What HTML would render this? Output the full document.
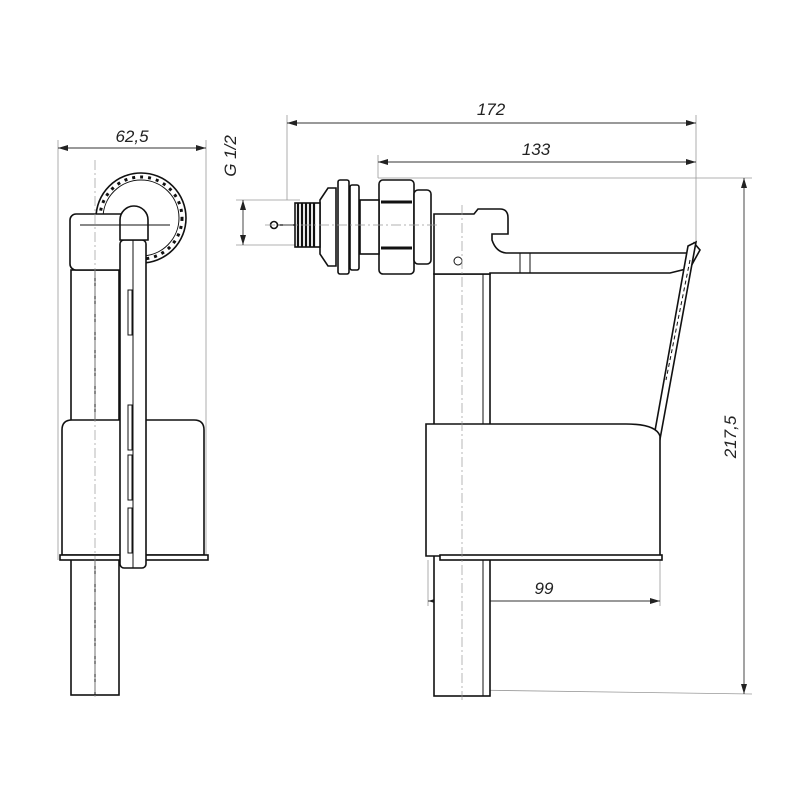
<!DOCTYPE html>
<html><head><meta charset="utf-8"><style>html,body{margin:0;padding:0;background:#fff}svg{display:block}</style></head>
<body>
<svg width="800" height="800" viewBox="0 0 800 800" xmlns="http://www.w3.org/2000/svg" font-family="Liberation Sans, sans-serif">
<defs>
<marker id="a" viewBox="0 0 10 6" refX="10" refY="3" markerWidth="10" markerHeight="6" orient="auto-start-reverse" markerUnits="userSpaceOnUse"><path d="M0,0 L10,3 L0,6z" fill="#222"/></marker>
</defs>
<g stroke="#999" stroke-width="0.8" fill="none">
<line x1="58" y1="140" x2="58" y2="560"/><line x1="206" y1="140" x2="206" y2="560"/>
<line x1="287" y1="115" x2="287" y2="200"/><line x1="696" y1="115" x2="696" y2="250"/>
<line x1="378" y1="155" x2="378" y2="178"/>
<line x1="378" y1="178" x2="752" y2="178"/>
<line x1="470" y1="690" x2="752" y2="694"/>
<line x1="236" y1="200" x2="300" y2="200"/><line x1="236" y1="245" x2="300" y2="245"/>
<line x1="428" y1="560" x2="428" y2="606"/><line x1="660" y1="560" x2="660" y2="606"/>
</g>
<g stroke="#333" stroke-width="0.9" fill="none">
<line x1="58" y1="148" x2="206" y2="148" marker-start="url(#a)" marker-end="url(#a)"/>
<line x1="287" y1="123" x2="696" y2="123" marker-start="url(#a)" marker-end="url(#a)"/>
<line x1="378" y1="162" x2="696" y2="162" marker-start="url(#a)" marker-end="url(#a)"/>
<line x1="744" y1="178" x2="744" y2="694" marker-start="url(#a)" marker-end="url(#a)"/>
<line x1="428" y1="601" x2="660" y2="601" marker-start="url(#a)" marker-end="url(#a)"/>
<line x1="243" y1="200" x2="243" y2="245" marker-start="url(#a)" marker-end="url(#a)"/>
</g>
<g font-style="italic" font-size="17" fill="#222" text-anchor="middle">
<text x="132" y="142">62,5</text>
<text x="491" y="115">172</text>
<text x="536" y="155">133</text>
<text x="544" y="594">99</text>
<text transform="translate(736,437) rotate(-90)">217,5</text>
<text transform="translate(236,156) rotate(-90)">G 1/2</text>
</g>
<g stroke="#111" stroke-width="1.6" fill="#fff">
<!-- LEFT VIEW -->
<circle cx="141" cy="218" r="45"/>
<circle cx="141" cy="218" r="38" stroke-width="1"/>
<circle cx="141" cy="218" r="41" stroke-width="3" stroke-dasharray="3,5" fill="none"/>
<rect x="71" y="270" width="48" height="425"/>
<line x1="95" y1="270" x2="95" y2="695" stroke-width="1"/>
<rect x="70" y="214" width="70" height="56" rx="6"/>
<path d="M62,430 q0,-10 10,-10 h122 q10,0 10,10 v125 h-142z"/>
<rect x="60" y="555" width="148" height="5"/>
<rect x="120" y="240" width="26" height="328" rx="4"/>
<line x1="133" y1="240" x2="133" y2="568" stroke-width="1"/>
<path d="M120,240 v-20 a14,14 0 0 1 28,0 v20z"/>
<line x1="80" y1="225" x2="170" y2="225" stroke-width="1"/>
<rect x="128" y="290" width="4" height="45" stroke-width="1"/>
<rect x="128" y="405" width="4" height="45" stroke-width="1"/>
<rect x="128" y="455" width="4" height="45" stroke-width="1"/>
<rect x="128" y="508" width="4" height="45" stroke-width="1"/>
<!-- RIGHT VIEW -->
<rect x="434" y="274" width="56" height="422"/>
<line x1="483" y1="274" x2="483" y2="696" stroke-width="1"/>
<path d="M434,274 V214 H474 L478,209 H500 Q508,209 508,218 V234 H492 V240 Q496,252 506,253 H688 L694,243 L700,250 L690,268 L670,273 H490 V274 Z"/>
<line x1="520" y1="253" x2="520" y2="273" stroke-width="1"/><line x1="530" y1="253" x2="530" y2="273" stroke-width="1"/>
<path d="M688,246 l8,-4 l-42,230 l-6,-2z"/>
<path d="M690,260 l-6,30 l-6,30 l-6,30 l-6,30" stroke-width="1" stroke-dasharray="4,3" fill="none"/>
<path d="M426,424 h200 q30,0 34,12 v120 h-234z"/>
<rect x="440" y="555" width="222" height="5"/>
<circle cx="458" cy="261" r="4" stroke-width="1"/>
<!-- valve -->
<rect x="379" y="180" width="35" height="94" rx="4"/>
<line x1="381" y1="202" x2="412" y2="202" stroke-width="3"/>
<line x1="381" y1="248" x2="412" y2="248" stroke-width="3"/>
<rect x="414" y="190" width="17" height="74" rx="4"/>
<rect x="360" y="200" width="19" height="54"/>
<rect x="350" y="185" width="9" height="85" rx="2"/>
<path d="M320,200 l8,-12 h8 v78 h-8 l-8,-12z"/>
<rect x="338" y="180" width="11" height="94" rx="2"/>
<rect x="295" y="203" width="25" height="44"/>
<path d="M298,203 v44 M302,203 v44 M306,203 v44 M310,203 v44 M314,203 v44" stroke-width="2.2"/>
<line x1="276" y1="225" x2="295" y2="225" stroke-width="1.2"/>
<circle cx="274" cy="225" r="3.5"/>
</g>
<g stroke="#999" stroke-width="0.7" stroke-dasharray="10,3,2,3" fill="none">
<line x1="95" y1="160" x2="95" y2="700"/>
<line x1="462" y1="205" x2="462" y2="700"/>
<line x1="265" y1="225" x2="440" y2="225"/>
</g>
</svg>
</body></html>
